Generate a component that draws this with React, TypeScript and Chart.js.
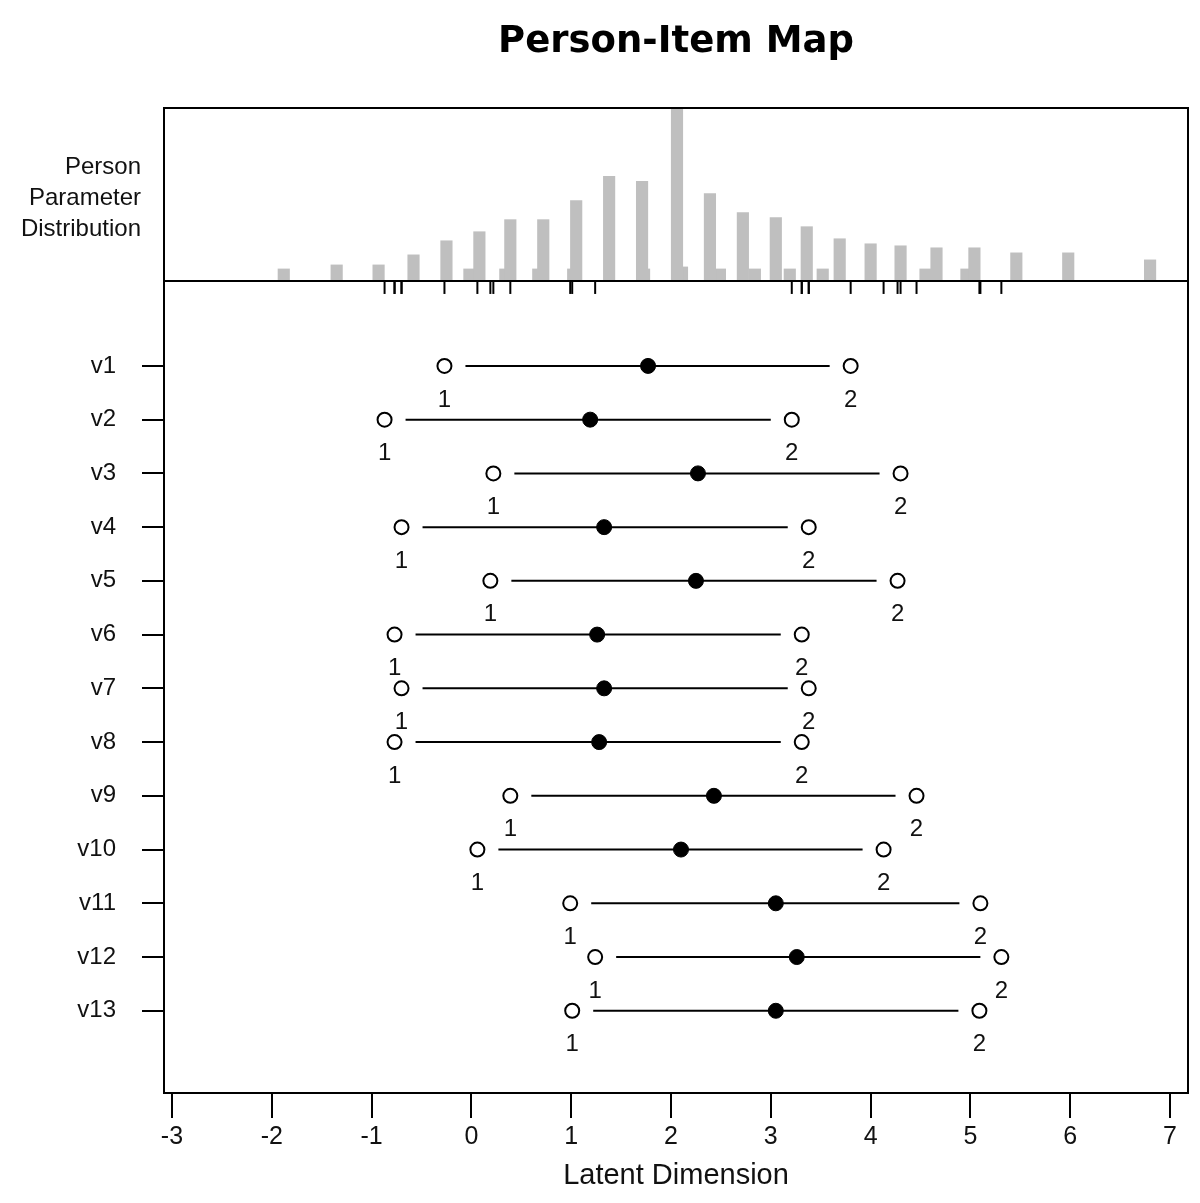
import React, { useEffect, useRef } from 'react';
import { Chart, registerables } from 'chart.js';

Chart.register(...registerables);

// ---------- data ----------
const xTickValues = [-3, -2, -1, 0, 1, 2, 3, 4, 5, 6, 7];
const X_MIN = -3.08;
const X_MAX = 7.18;

const items = ['v1', 'v2', 'v3', 'v4', 'v5', 'v6', 'v7', 'v8', 'v9', 'v10', 'v11', 'v12', 'v13'];
const threshold1 = [-0.27, -0.87, 0.22, -0.7, 0.19, -0.77, -0.7, -0.77, 0.39, 0.06, 0.99, 1.24, 1.01];
const threshold2 = [3.8, 3.21, 4.3, 3.38, 4.27, 3.31, 3.38, 3.31, 4.46, 4.13, 5.1, 5.31, 5.09];
const itemLocation = [1.77, 1.19, 2.27, 1.33, 2.25, 1.26, 1.33, 1.28, 2.43, 2.1, 3.05, 3.26, 3.05];
const thresholdLabels = ['1', '2'];

// person parameter distribution (relative frequencies)
const personCenters = [-1.88, -1.35, -0.93, -0.58, -0.25, 0.08, 0.39, 0.72, 1.05, 1.38, 1.71, 2.06, 2.39, 2.72, 3.05, 3.36, 3.69, 4.0, 4.3, 4.66, 5.04, 5.46, 5.98, 6.8];
const personFreq = [12, 16, 16, 26, 40, 49, 61, 61, 80, 104, 99, 172, 87, 68, 63, 54, 42, 37, 35, 33, 33, 28, 28, 21];
const personMinorCenters = [-0.02, 0.34, 0.67, 1.02, 1.73, 2.11, 2.49, 2.84, 3.19, 3.52, 4.55, 4.96];
const personMinorFreq = [12, 12, 12, 12, 12, 14, 12, 12, 12, 12, 12, 12];
const FREQ_MAX = 172;
const sideLabel = ['Person', 'Parameter', 'Distribution'];

// ---------- styling ----------
const SANS = '"Liberation Sans", Arial, sans-serif';
const TEXT = '#111111';
const BAR = '#bfbfbf';
const Y_MIN = -0.58;
const Y_MAX = 14.53;
const RUG_Y = -0.46;

const zeroPad = (s: any) => {
  s.paddingTop = 0;
  s.paddingBottom = 0;
  s.paddingLeft = 0;
  s.paddingRight = 0;
};

const boxPlugin = {
  id: 'boxPlugin',
  afterDatasetsDraw(chart: any) {
    const { ctx, chartArea } = chart;
    ctx.save();
    ctx.strokeStyle = '#000';
    ctx.lineWidth = 2;
    ctx.strokeRect(chartArea.left, chartArea.top, chartArea.right - chartArea.left, chartArea.bottom - chartArea.top);
    ctx.restore();
  },
};

const thresholdLabelPlugin = {
  id: 'thresholdLabels',
  afterDatasetsDraw(chart: any) {
    const { ctx } = chart;
    const xs = chart.scales.x;
    const ys = chart.scales.y;
    ctx.save();
    ctx.fillStyle = TEXT;
    ctx.font = `24px ${SANS}`;
    ctx.textAlign = 'center';
    ctx.textBaseline = 'middle';
    items.forEach((_, i) => {
      const yp = ys.getPixelForValue(i + 1) + 34;
      ctx.fillText(thresholdLabels[0], xs.getPixelForValue(threshold1[i]), yp);
      ctx.fillText(thresholdLabels[1], xs.getPixelForValue(threshold2[i]), yp);
    });
    ctx.restore();
  },
};

export default function App() {
  const topRef = useRef<HTMLCanvasElement | null>(null);
  const botRef = useRef<HTMLCanvasElement | null>(null);

  useEffect(() => {
    const top = new Chart(topRef.current as HTMLCanvasElement, {
      type: 'bar',
      data: {
        datasets: [
          {
            data: personMinorCenters.map((x, i) => ({ x, y: personMinorFreq[i] })),
            backgroundColor: BAR,
            borderWidth: 0,
            barThickness: 11.5,
            grouped: false,
            order: 2,
          } as any,
          {
            data: personCenters.map((x, i) => ({ x, y: personFreq[i] })),
            backgroundColor: BAR,
            borderWidth: 0,
            barThickness: 11.5,
            grouped: false,
            order: 1,
          } as any,
        ],
      },
      options: {
        animation: false,
        responsive: true,
        maintainAspectRatio: false,
        events: [],
        layout: { autoPadding: false, padding: { left: 0, right: 12, top: 0, bottom: 9 } },
        plugins: {
          legend: { display: false },
          tooltip: { enabled: false },
          title: {
            display: true,
            text: 'Person-Item Map',
            fullSize: false,
            color: '#000',
            font: { family: '"DejaVu Sans", sans-serif', size: 37, weight: 'bold', lineHeight: 1.2 },
            padding: { top: 20, bottom: 43.6 },
          },
        },
        scales: {
          x: { type: 'linear', display: false, min: X_MIN, max: X_MAX, offset: false },
          y: {
            type: 'linear',
            position: 'left',
            min: 0,
            max: FREQ_MAX,
            grid: { display: false, drawTicks: false, tickLength: 0 },
            border: { display: false },
            ticks: {
              padding: 23,
              color: TEXT,
              font: { family: SANS, size: 24, lineHeight: 1.3 },
              callback: () => sideLabel,
            },
            afterBuildTicks: (s: any) => {
              s.ticks = [{ value: FREQ_MAX * 0.477 }];
            },
            afterFit: (s: any) => {
              s.width = 164;
              zeroPad(s);
            },
          },
        },
      } as any,
      plugins: [boxPlugin],
    });

    const lineSets = items.map((_, i) => ({
      type: 'line',
      data: [
        { x: threshold1[i], y: i + 1 },
        { x: threshold2[i], y: i + 1 },
      ],
      borderColor: '#000',
      borderWidth: 2,
      pointRadius: 0,
      showLine: true,
      order: 10,
    }));
    const allThresholds = items.flatMap((_, i) => [
      { x: threshold1[i], y: i + 1 },
      { x: threshold2[i], y: i + 1 },
    ]);

    const bottom = new Chart(botRef.current as HTMLCanvasElement, {
      type: 'scatter',
      data: {
        datasets: [
          ...lineSets,
          {
            data: allThresholds,
            pointStyle: 'line',
            pointRadius: 21,
            pointBorderColor: '#ffffff',
            pointBorderWidth: 6,
            order: 4,
          },
          {
            data: allThresholds,
            pointStyle: 'circle',
            pointRadius: 7,
            pointBackgroundColor: '#ffffff',
            pointBorderColor: '#000',
            pointBorderWidth: 2,
            order: 3,
          },
          {
            data: itemLocation.map((x, i) => ({ x, y: i + 1 })),
            pointStyle: 'circle',
            pointRadius: 7.5,
            pointBackgroundColor: '#000',
            pointBorderColor: '#000',
            pointBorderWidth: 1,
            order: 2,
          },
          {
            data: allThresholds.map((p) => ({ x: p.x, y: RUG_Y })),
            pointStyle: 'line',
            rotation: 90,
            pointRotation: 90,
            pointRadius: 6.5,
            pointBorderColor: '#000',
            pointBorderWidth: 2,
            order: 1,
          },
        ] as any,
      },
      options: {
        animation: false,
        responsive: true,
        maintainAspectRatio: false,
        events: [],
        layout: { autoPadding: false, padding: { left: 0, right: 12, top: 11, bottom: 0 } },
        plugins: { legend: { display: false }, tooltip: { enabled: false } },
        scales: {
          x: {
            type: 'linear',
            position: 'bottom',
            min: X_MIN,
            max: X_MAX,
            grid: { drawOnChartArea: false, drawTicks: true, tickLength: 25, color: '#000', lineWidth: 2 },
            border: { display: false },
            ticks: {
              padding: 4,
              color: TEXT,
              autoSkip: false,
              maxRotation: 0,
              font: { family: SANS, size: 25 },
              callback: (v: any) => String(v),
            },
            afterBuildTicks: (s: any) => {
              s.ticks = xTickValues.map((v) => ({ value: v }));
            },
            title: {
              display: true,
              text: 'Latent Dimension',
              color: TEXT,
              font: { family: SANS, size: 29 },
              padding: { top: 0, bottom: 9.6 },
            },
            afterFit: (s: any) => {
              s.height = 110;
              zeroPad(s);
            },
          },
          y: {
            type: 'linear',
            position: 'left',
            reverse: true,
            min: Y_MIN,
            max: Y_MAX,
            grid: { drawOnChartArea: false, drawTicks: true, tickLength: 22, color: '#000', lineWidth: 2 },
            border: { display: false },
            ticks: {
              padding: 26,
              color: TEXT,
              font: { family: SANS, size: 24 },
              callback: (v: any) => items[Math.round(v) - 1] ?? '',
            },
            afterBuildTicks: (s: any) => {
              s.ticks = items.map((_, i) => ({ value: i + 1 }));
            },
            afterFit: (s: any) => {
              s.width = 164;
              zeroPad(s);
            },
          },
        },
      } as any,
      plugins: [boxPlugin, thresholdLabelPlugin],
    });

    return () => {
      top.destroy();
      bottom.destroy();
    };
  }, []);

  return (
    <div style={{ position: 'absolute', left: 0, top: 0, width: 1200, height: 1203, background: '#fff' }}>
      <div style={{ position: 'absolute', left: 0, top: 0, width: 1200, height: 290 }}>
        <canvas ref={topRef} />
      </div>
      <div style={{ position: 'absolute', left: 0, top: 270, width: 1200, height: 933 }}>
        <canvas ref={botRef} />
      </div>
    </div>
  );
}
